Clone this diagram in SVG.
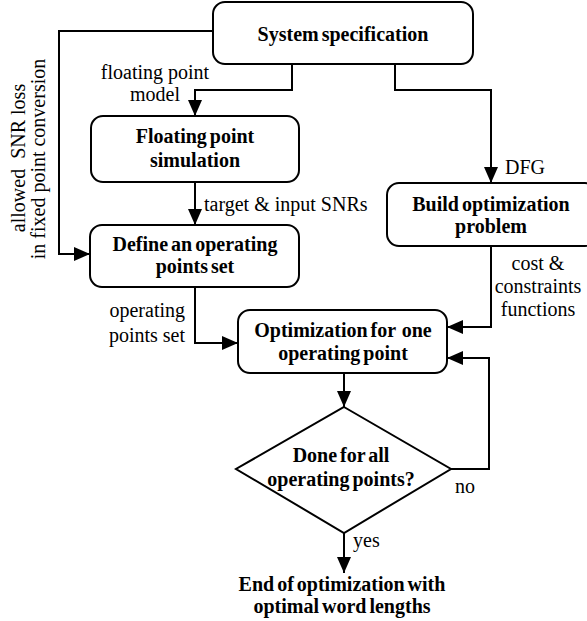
<svg xmlns="http://www.w3.org/2000/svg" width="587" height="621" viewBox="0 0 587 621">
<style>
.box{fill:#fff;stroke:#000;stroke-width:2}
.ln{fill:none;stroke:#000;stroke-width:2;marker-end:url(#ah)}
.b{font-family:"Liberation Serif",serif;font-weight:bold;font-size:20px;fill:#000;text-anchor:middle;word-spacing:-2px}
.t{font-family:"Liberation Serif",serif;font-size:20px;fill:#000}
</style>
<defs>
<marker id="ah" markerUnits="userSpaceOnUse" markerWidth="16" markerHeight="14" refX="16" refY="7" orient="auto">
<path d="M0,0 L16,7 L0,14 z" fill="#000"/>
</marker>
</defs>
<rect width="587" height="621" fill="#fff"/>
<g id="connectors">
<path class="ln" d="M213,31 H59 V254 H90"/>
<path class="ln" d="M292,64 V90 H195 V116"/>
<path class="ln" d="M395,64 V90 H491 V183"/>
<path class="ln" d="M195,182 V225"/>
<path class="ln" d="M195,287 V343 H238"/>
<path class="ln" d="M491,246 V327 H447"/>
<path class="ln" d="M344,373 V407"/>
<path class="ln" d="M451,469 H489 V358 H447"/>
<path class="ln" d="M344,533 V573"/>
<g class="t">
<text x="155" y="79" text-anchor="middle">floating point</text>
<text x="155" y="101" text-anchor="middle">model</text>
<text x="505" y="174">DFG</text>
<text x="204" y="211">target &amp; input SNRs</text>
<text x="185" y="317" text-anchor="end">operating</text>
<text x="185" y="342" text-anchor="end">points set</text>
<text x="538" y="270" text-anchor="middle">cost &amp;</text>
<text x="538" y="293" text-anchor="middle">constraints</text>
<text x="538" y="316" text-anchor="middle">functions</text>
<text x="455" y="493">no</text>
<text x="353" y="547">yes</text>
<text transform="translate(25,158) rotate(-90)" text-anchor="middle" xml:space="preserve">allowed  SNR loss</text>
<text transform="translate(45,159) rotate(-90)" text-anchor="middle">in fixed point conversion</text>
</g>
</g>
<g id="system-spec">
<rect class="box" x="213" y="2" width="260" height="62" rx="12"/>
<text class="b" x="343" y="41">System specification</text>
</g>
<g id="fp-sim">
<rect class="box" x="91" y="116" width="208" height="66" rx="12"/>
<text class="b" x="195" y="143">Floating point</text>
<text class="b" x="195" y="167">simulation</text>
</g>
<g id="define-op">
<rect class="box" x="90" y="225" width="209" height="62" rx="12"/>
<text class="b" x="195" y="251">Define an operating</text>
<text class="b" x="195" y="273">points set</text>
</g>
<g id="build-opt">
<rect class="box" x="387" y="183" width="210" height="63" rx="12"/>
<text class="b" x="491" y="211">Build optimization</text>
<text class="b" x="491" y="233">problem</text>
</g>
<g id="opt-one">
<rect class="box" x="238" y="310" width="209" height="63" rx="12"/>
<text class="b" x="343" y="337" xml:space="preserve">Optimization for  one</text>
<text class="b" x="343" y="360">operating point</text>
</g>
<g id="done-all">
<path class="box" d="M344,407 L451,469 L344,533 L236,469 Z"/>
<text class="b" x="341" y="462">Done for all</text>
<text class="b" x="341" y="486">operating points?</text>
</g>
<g id="end">
<text class="b" x="342" y="591">End of optimization with</text>
<text class="b" x="342" y="613">optimal word lengths</text>
</g>
</svg>
